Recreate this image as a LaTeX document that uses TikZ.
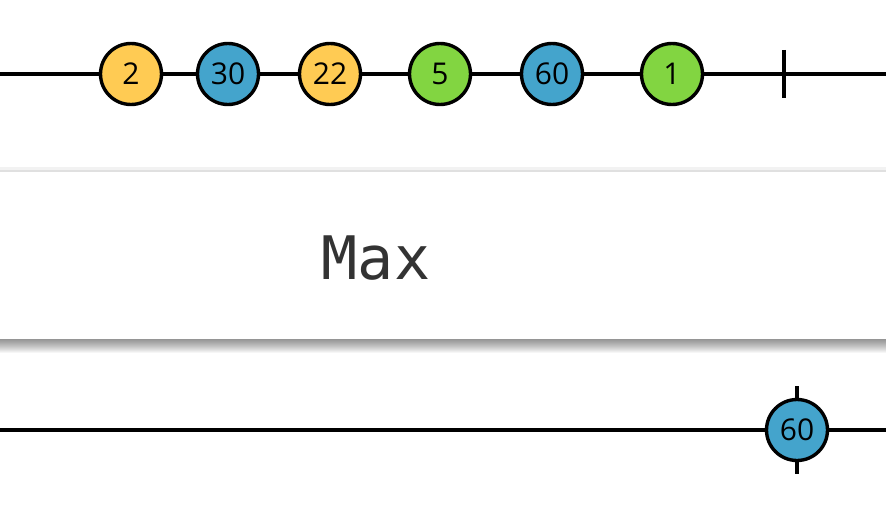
\documentclass[tikz,border=0pt]{standalone}
\usepackage{fontspec}
\setmainfont{Open Sans}
\newfontfamily\monofont{DejaVu Sans Mono}
\definecolor{myyellow}{HTML}{FFCB53}
\definecolor{myblue}{HTML}{44A4CC}
\definecolor{mygreen}{HTML}{82D541}
\definecolor{txtgray}{HTML}{333333}
\begin{document}
\begin{tikzpicture}[x=1pt,y=-1pt,
  marble/.style={circle,draw=black,line width=3.4pt,minimum size=61pt,inner sep=0pt,font=\fontsize{30}{30}\selectfont},
  tl/.style={line width=3.4pt,black}]
\useasboundingbox (0,0) rectangle (886,508);
\fill[white] (0,0) rectangle (886,508);
% top timeline
\coordinate (tl0) at (0,74);
\coordinate (tl1) at (886,74);
\draw[tl] (tl0) -- (tl1);
\draw[tl] (784,50) coordinate (tk1) -- (784,98) coordinate (tk2);
\node[marble,fill=myyellow] (m1) at (131,74) {2};
\node[marble,fill=myblue] (m2) at (228,74) {30};
\node[marble,fill=myyellow] (m3) at (330,74) {22};
\node[marble,fill=mygreen] (m4) at (440,74) {5};
\node[marble,fill=myblue] (m5) at (552,74) {60};
\node[marble,fill=mygreen] (m6) at (672,74) {1};
% operator box with shadow
\foreach \i in {1,...,14}{
  \fill[black,opacity=0.035] (-5,172) rectangle (891,339+\i);
}
\fill[black!12] (-5,169.5) rectangle (891,171.5);
\fill[black!5] (-5,166.5) rectangle (891,169.5);
\fill[white] (-5,171.5) rectangle (891,339);
\node[font=\monofont\fontsize{60}{60}\selectfont,text=txtgray] (op) at (376,258) {Max};
% bottom timeline
\coordinate (bl0) at (0,430);
\coordinate (bl1) at (886,430);
\draw[tl] (bl0) -- (bl1);
\draw[tl] (797,386) coordinate (bk1) -- (797,474) coordinate (bk2);
\node[marble,fill=myblue] (r1) at (797,430) {60};
\end{tikzpicture}
\end{document}
